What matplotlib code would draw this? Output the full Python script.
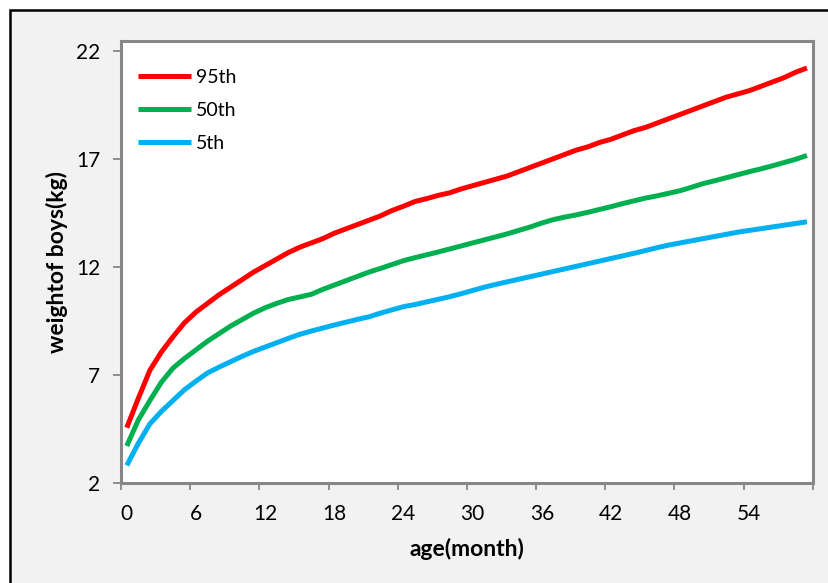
import matplotlib
matplotlib.use("Agg")
import matplotlib.pyplot as plt
from matplotlib.patches import Rectangle

plt.rcParams['font.family'] = ['Lato', 'DejaVu Sans']

months = list(range(60))
p95 = [4.55, 5.9, 7.2, 8.05, 8.75, 9.4, 9.9, 10.3, 10.7, 11.05,
       11.4, 11.75, 12.05, 12.35, 12.65, 12.9, 13.1, 13.3, 13.55, 13.75,
       13.95, 14.15, 14.35, 14.6, 14.8, 15.02, 15.15, 15.3, 15.42, 15.6,
       15.75, 15.9, 16.05, 16.2, 16.4, 16.6, 16.8, 17.0, 17.2, 17.4,
       17.55, 17.75, 17.9, 18.1, 18.3, 18.45, 18.65, 18.85, 19.05, 19.25,
       19.45, 19.65, 19.85, 20.0, 20.15, 20.35, 20.55, 20.75, 21.0, 21.2]
p50 = [3.7, 4.9, 5.8, 6.65, 7.3, 7.75, 8.15, 8.55, 8.9, 9.25,
       9.55, 9.85, 10.1, 10.3, 10.48, 10.6, 10.72, 10.95, 11.15, 11.35,
       11.55, 11.75, 11.92, 12.1, 12.28, 12.42, 12.55, 12.68, 12.82, 12.96,
       13.1, 13.24, 13.38, 13.52, 13.68, 13.84, 14.02, 14.18, 14.3, 14.4,
       14.52, 14.65, 14.78, 14.92, 15.05, 15.18, 15.28, 15.4, 15.52, 15.68,
       15.85, 15.98, 16.12, 16.26, 16.4, 16.53, 16.67, 16.82, 16.97, 17.15]
p5 = [2.8, 3.82, 4.72, 5.3, 5.8, 6.3, 6.7, 7.08, 7.35, 7.6,
      7.85, 8.08, 8.28, 8.48, 8.68, 8.87, 9.02, 9.16, 9.3, 9.43,
      9.56, 9.68, 9.85, 10.0, 10.15, 10.25, 10.37, 10.49, 10.61, 10.75,
      10.9, 11.05, 11.18, 11.3, 11.42, 11.54, 11.66, 11.78, 11.9, 12.02,
      12.14, 12.26, 12.38, 12.5, 12.62, 12.75, 12.88, 13.0, 13.1, 13.2,
      13.3, 13.4, 13.5, 13.6, 13.68, 13.76, 13.84, 13.92, 14.0, 14.08]
series_names = ["95th", "50th", "5th"]
colors = ["#FF0000", "#00B050", "#00B0F0"]
x_ticks = [0, 6, 12, 18, 24, 30, 36, 42, 48, 54]
y_ticks = [2, 7, 12, 17, 22]

W, H = 829, 583
fig = plt.figure(figsize=(W / 100, H / 100), dpi=100)
fig.patch.set_facecolor("white")
fig.add_artist(Rectangle((10.5 / W, -0.05), 1.2, 1.05 - 10.5 / H,
                         transform=fig.transFigure, facecolor="#F2F2F2",
                         edgecolor="black", linewidth=1.8, zorder=0))

ax = fig.add_axes([121 / W, 1 - 482.7 / H, (812.7 - 121) / W, (482.7 - 41) / H])
ax.set_facecolor("white")
for vals, name, c in zip([p95, p50, p5], series_names, colors):
    ax.plot(months, vals, color=c, lw=3.6, label=name, solid_capstyle="butt")

ax.set_xlim(-0.5, 59.5)
ax.set_ylim(2, 22.45)
ax.set_yticks(y_ticks)
ax.set_xticks(x_ticks)
ax.set_xticks([m - 0.5 for m in range(0, 61, 6)], minor=True)
ax.tick_params(axis="x", which="major", length=0, pad=15, labelsize=15)
ax.tick_params(axis="x", which="minor", length=5, width=1.3, color="#878787")
ax.tick_params(axis="y", which="major", length=6, width=1.3, color="#878787",
               pad=9, labelsize=15)
for s in ax.spines.values():
    s.set_color("#878787")
    s.set_linewidth(2.2)

ax.set_xlabel("age(month)", fontsize=16.5, fontweight="bold", labelpad=10)
ax.set_ylabel("weightof boys(kg)", fontsize=16.5, fontweight="bold", labelpad=6)

ax.legend(loc="upper left", frameon=False, fontsize=14, handlelength=2.7,
          handletextpad=0.26, labelspacing=0.82, borderpad=0, borderaxespad=0,
          bbox_to_anchor=(0.0246, 0.937))

fig.savefig("out.png", dpi=100)
